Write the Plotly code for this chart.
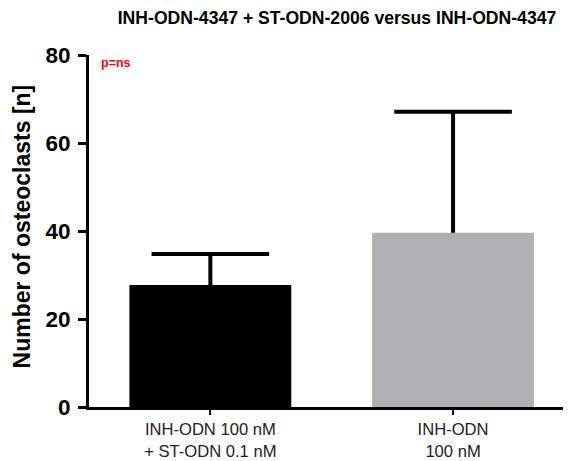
import plotly.graph_objects as go

categories = ["INH-ODN 100 nM<br>+ ST-ODN 0.1 nM", "INH-ODN<br>100 nM"]
means = [27.7, 39.6]
errors_up = [7.1, 27.5]
bar_colors = ["#000000", "#b0afb3"]
y_ticks = [0, 20, 40, 60, 80]

# page body has an 8px margin, so the figure is sized to fit what remains
W, H = 563, 453
L, T, PH, PW = 81, 47, 352, 482

fig = go.Figure()
fig.add_trace(go.Bar(
    x=[0, 1], y=means,
    width=0.667,
    marker=dict(color=bar_colors, line=dict(width=0)),
    error_y=dict(type="data", array=errors_up, arrayminus=[0, 0], symmetric=False,
                 color="#000000", thickness=4, width=0),
    showlegend=False,
))
fig.add_trace(go.Scatter(
    x=[0, 1], y=[m + e for m, e in zip(means, errors_up)],
    mode="markers",
    marker=dict(symbol="line-ew", size=84, line=dict(width=4, color="#000000"), color="#000000"),
    showlegend=False, hoverinfo="skip",
))

fig.update_layout(
    width=W, height=H,
    margin=dict(l=L, r=W - L - PW, t=T, b=H - T - PH, pad=0),
    plot_bgcolor="white", paper_bgcolor="white",
    font=dict(family="Liberation Sans, Arial, sans-serif", color="#000000"),
    title=dict(text="<b>INH-ODN-4347 + ST-ODN-2006 versus INH-ODN-4347</b>",
               x=(337 - 89) / 482, xref="paper", xanchor="center",
               y=1 - 10 / H, yref="container", yanchor="middle",
               font=dict(size=17.6, family="Liberation Sans, Arial, sans-serif", color="#000000")),
    xaxis=dict(range=[-0.5, 1.486], tickmode="array", tickvals=[0, 1], ticktext=categories,
               showline=True, linecolor="#000000", linewidth=3,
               ticks="outside", ticklen=5, tickwidth=2, tickcolor="#000000",
               tickfont=dict(size=16.6, family="Liberation Sans, Arial, sans-serif", color="#222222"),
               showgrid=False, zeroline=False, fixedrange=True),
    yaxis=dict(range=[0, 80], tickmode="array", tickvals=y_ticks,
               ticktext=[f"<b>{v}</b>" for v in y_ticks],
               showline=True, linecolor="#000000", linewidth=3,
               ticks="outside", ticklen=8, tickwidth=3, tickcolor="#000000",
               tickfont=dict(size=22.5, family="Liberation Sans Narrow, Arial Narrow, Liberation Sans, sans-serif", color="#000000"),
               ticklabelstandoff=3,
               showgrid=False, zeroline=False, fixedrange=True),
    annotations=[
        dict(text="<b>Number of osteoclasts [n]</b>", textangle=-90,
             x=(22 - 89) / 482, y=0.513, xref="paper", yref="paper",
             xanchor="center", yanchor="middle", showarrow=False,
             font=dict(size=23, family="Liberation Sans, Arial, sans-serif", color="#000000")),
        dict(text="<b>p=ns</b>", x=(116 - 89) / 482, y=(407 - 63) / 352,
             xref="paper", yref="paper", xanchor="center", yanchor="middle",
             showarrow=False,
             font=dict(size=12.5, family="Liberation Sans, Arial, sans-serif", color="#ff0000")),
    ],
)

fig.write_html("out.html")
